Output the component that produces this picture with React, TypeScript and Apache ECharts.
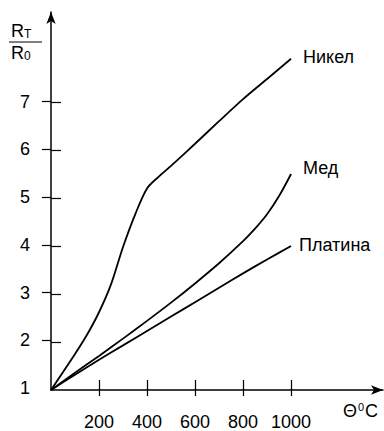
import React, { useEffect, useRef } from "react";
import * as echarts from "echarts";

const nickel: [number, number][] = [
  [0, 1], [100, 1.75], [150, 2.15], [200, 2.62], [250, 3.2], [300, 3.98], [350, 4.65],
  [400, 5.2], [450, 5.45], [500, 5.67], [600, 6.13], [700, 6.6], [800, 7.06], [900, 7.48], [1000, 7.9],
];
const copper: [number, number][] = [
  [0, 1], [100, 1.36], [200, 1.71], [300, 2.07], [400, 2.44], [500, 2.82], [600, 3.22],
  [700, 3.64], [800, 4.1], [850, 4.36], [900, 4.66], [950, 5.04], [1000, 5.5],
];
const platinum: [number, number][] = [
  [0, 1], [100, 1.32], [200, 1.63], [300, 1.93], [400, 2.23], [500, 2.53], [600, 2.83],
  [700, 3.13], [800, 3.43], [900, 3.72], [1000, 4.0],
];
const seriesNames = ["Никел", "Мед", "Платина"];
const xTicks = [200, 400, 600, 800, 1000];
const yTicks = [2, 3, 4, 5, 6, 7];
const yLabels = [1, 2, 3, 4, 5, 6, 7];

const FONT = "Liberation Sans, Arial, sans-serif";

export default function App() {
  const ref = useRef<HTMLDivElement>(null);
  useEffect(() => {
    if (!ref.current) return;
    const chart = echarts.init(ref.current, undefined, { renderer: "svg" });
    const gridBox = { left: 51, right: 1, top: 12, bottom: 41 };
    const xBase = { type: "value", min: 0, max: 1383, splitLine: { show: false } };
    const yBase = { type: "value", min: 1, max: 8.875, interval: 1, splitLine: { show: false } };
    const lineStyle = { color: "#000", width: 1.8 };
    const mk = (name: string, data: [number, number][], offset: [number, number]) => ({
      type: "line",
      name,
      data,
      smooth: 0.3,
      showSymbol: false,
      symbol: "none",
      xAxisIndex: 0,
      yAxisIndex: 0,
      lineStyle,
      endLabel: {
        show: true,
        formatter: "{a}",
        distance: 12,
        offset,
        color: "#000",
        fontSize: 18,
        fontFamily: FONT,
      },
      silent: true,
    });
    const plain = (v: number) => String(v);
    chart.setOption({
      animation: false,
      backgroundColor: "#fff",
      grid: [
        { ...gridBox },
        { ...gridBox },
      ],
      xAxis: [
        {
          ...xBase,
          gridIndex: 0,
          axisLine: { show: true, lineStyle: { color: "#000", width: 1.5 }, symbol: ["none", "arrow"], symbolSize: [7, 12] },
          axisTick: { show: true, inside: true, length: 10, customValues: xTicks, lineStyle: { color: "#000", width: 1.2 } },
          axisLabel: { show: false },
        },
        {
          ...xBase,
          gridIndex: 1,
          axisLine: { show: false },
          axisTick: { show: true, inside: false, length: 8, customValues: xTicks, lineStyle: { color: "#000", width: 1.2 } },
          axisLabel: { show: true, customValues: xTicks, formatter: plain, margin: 25, color: "#000", fontSize: 18, fontFamily: FONT },
        },
      ],
      yAxis: [
        {
          ...yBase,
          gridIndex: 0,
          axisLine: { show: true, lineStyle: { color: "#000", width: 1.5 }, symbol: ["none", "arrow"], symbolSize: [7, 12] },
          axisTick: { show: true, inside: true, length: 10, customValues: yTicks, lineStyle: { color: "#000", width: 1.2 } },
          axisLabel: { show: false },
        },
        {
          ...yBase,
          gridIndex: 1,
          axisLine: { show: false },
          axisTick: { show: true, inside: false, length: 9, customValues: yTicks, lineStyle: { color: "#000", width: 1.2 } },
          axisLabel: { show: true, customValues: yLabels, formatter: plain, margin: 21, color: "#000", fontSize: 18, fontFamily: FONT },
        },
      ],
      series: [
        mk(seriesNames[0], nickel, [0, -2]),
        mk(seriesNames[1], copper, [0, -6]),
        mk(seriesNames[2], platinum, [-4, -1]),
      ],
      graphic: [
        {
          type: "text",
          left: 11,
          top: 22,
          style: {
            text: "R{s|T}",
            fill: "#000",
            font: `18px ${FONT}`,
            rich: { s: { fontSize: 12, fontFamily: FONT, fill: "#000", padding: [6, 0, 0, 0] } },
          },
        },
        {
          type: "line",
          shape: { x1: 9, y1: 42, x2: 42, y2: 42 },
          style: { stroke: "#000", lineWidth: 1.2 },
        },
        {
          type: "text",
          left: 11,
          top: 44,
          style: {
            text: "R{s|0}",
            fill: "#000",
            font: `18px ${FONT}`,
            rich: { s: { fontSize: 12, fontFamily: FONT, fill: "#000", padding: [6, 0, 0, 0] } },
          },
        },
        {
          type: "text",
          left: 343,
          top: 401,
          style: {
            text: "Θ{s|0}C",
            fill: "#000",
            font: `18px ${FONT}`,
            rich: { s: { fontSize: 11, fontFamily: FONT, fill: "#000", padding: [0, 1, 8, 1] } },
          },
        },
      ],
    });
    return () => chart.dispose();
  }, []);
  return (
    <div
      ref={ref}
      style={{ position: "fixed", left: 0, top: 0, width: 384, height: 431, background: "#fff" }}
    />
  );
}
